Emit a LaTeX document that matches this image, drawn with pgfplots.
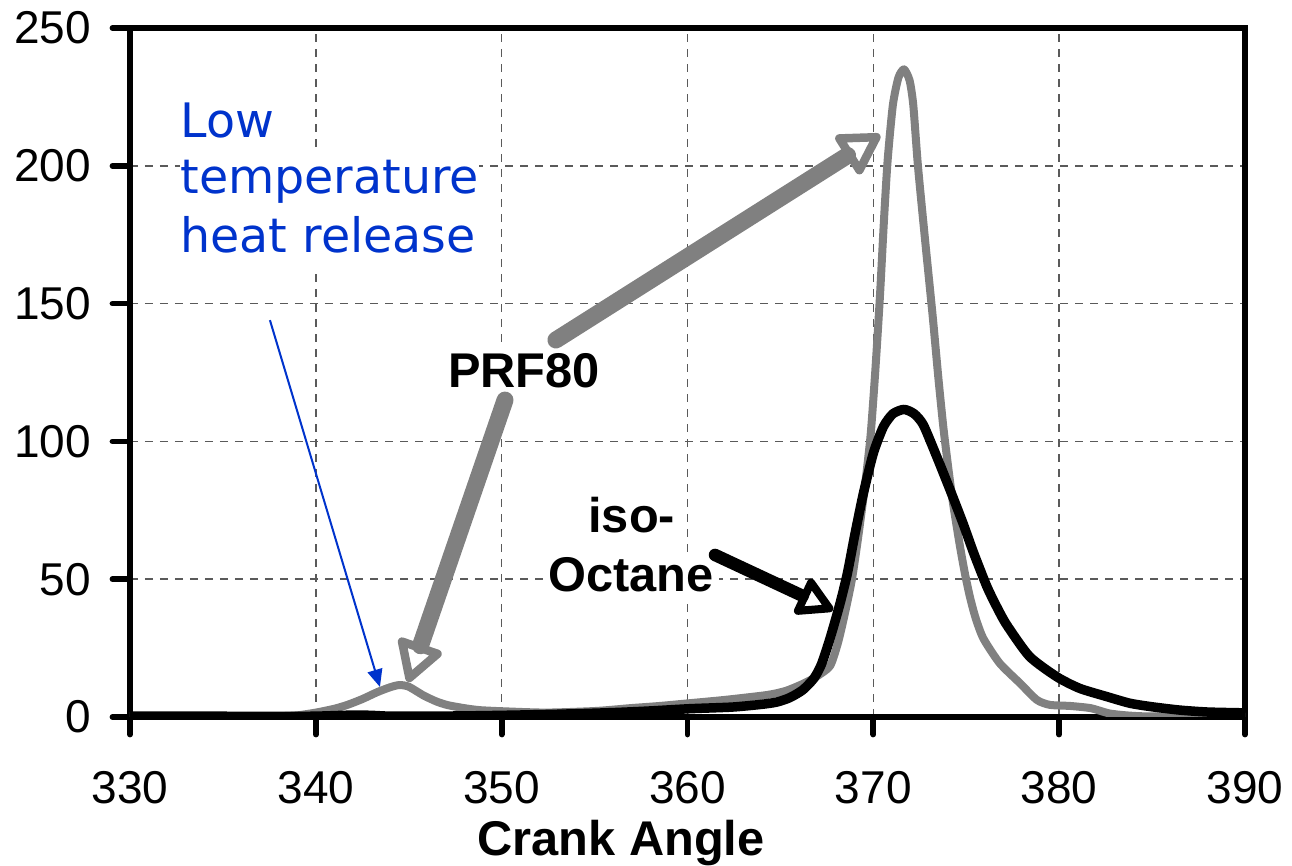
\documentclass[border=0pt]{standalone}
\usepackage{fontspec}
\setmainfont{Liberation Sans}
\newfontfamily\annfont{DejaVu Sans}
\usepackage{pgfplots}
\pgfplotsset{compat=1.18}
\usetikzlibrary{arrows.meta}
\definecolor{curvegray}{RGB}{128,128,128}
\definecolor{annblue}{RGB}{0,51,204}
\definecolor{gridc}{RGB}{90,90,90}

\begin{document}
\begin{tikzpicture}
\begin{axis}[
  name=ax,
  scale only axis, width=446pt, height=275.6pt,
  xmin=330, xmax=390, ymin=0, ymax=250,
  xtick={330,340,...,390}, ytick={0,50,...,250},
  xtick pos=bottom, ytick pos=left,
  tick align=outside, major tick length=7pt,
  every tick/.style={black, line width=2.3pt, line cap=round},
  axis line style={line width=2.3pt},
  grid=major,
  major grid style={dash pattern=on 3.2pt off 2.8pt, line width=0.6pt, gridc},
  /pgf/number format/assume math mode=true,
  tick label style={font=\fontsize{18.4}{22}\selectfont, inner sep=0pt},
  xticklabel style={anchor=base, yshift=-27.4pt},
  yticklabel style={anchor=east, xshift=-8.4pt},
  xlabel={Crank Angle},
  xlabel style={font=\bfseries\fontsize{19.5}{23}\selectfont, at={(axis description cs:0.4404,-0.2003)}, anchor=base, inner sep=0pt},
]
\addplot[curvegray, line width=3.2pt, line join=round, smooth, tension=0.4] coordinates {
(330,0.3)(333,0.3)(336,0.2)(338,0.3)(339,0.6)(340,1.6)(341,3)(341.7,4.4)(342.5,6.5)(343.3,9)(344,10.8)(344.5,11.6)(345,11)(345.8,7.8)(346.5,5.6)(347.1,4.3)(348,3.2)(348.8,2.5)(350,2.1)(352.4,1.6)(355.1,2.2)(356.9,3.2)(358.5,4)(360.1,5)(362,6.2)(364.3,8)(365.3,9.5)(366.2,12)(366.9,14.5)(367.67,18.5)(368.1,27)(368.45,37)(368.85,50)(369.2,66)(369.55,84)(369.85,102)(370.1,125)(370.35,152)(370.57,180)(370.77,202)(371.05,222)(371.35,232)(371.65,235)(371.95,231)(372.15,222)(372.4,200)(372.8,172)(373.2,145)(373.5,123)(373.77,105)(374.04,90)(374.3,77)(374.66,62)(374.93,52)(375.2,43.5)(375.5,36)(375.92,28.5)(376.8,19.5)(377.9,12.2)(378.8,6.2)(379.5,4.4)(380.6,4)(381.7,3.2)(382.7,1.3)(383.8,0.5)(385,0.2)(390,0.1)
};
\addplot[black, line width=3.8pt, line join=round, smooth, tension=0.4] coordinates {
(330,0.3)(334,0.3)(338,0.2)(340,0.3)(342,0.7)(343,0.6)(344,0.3)(346,0.3)(348,0.4)(350,0.6)(353,1)(356,1.6)(358,2.2)(360.1,3)(362.4,3.6)(364,4.6)(364.8,5.4)(365.5,7)(366.2,9.8)(366.8,14)(367.2,19)(367.67,28.5)(368.2,41)(368.6,52)(369.0,66)(369.46,81)(370.0,95.7)(370.54,105.3)(371.05,110)(371.65,111.6)(372.2,110)(372.69,106)(373.41,94.5)(374.13,82.4)(374.84,70)(375.4,59.5)(376.1,47.5)(376.6,40.5)(377.17,33.5)(378.4,22)(379.87,14.6)(381.1,10.4)(382.56,7.4)(383.8,5)(385,3.7)(386.5,2.5)(388,1.8)(390,1.5)
};
% annotations
\node[fill=white, inner sep=0pt, text height=16pt, text depth=7pt, anchor=base west, font=\annfont\fontsize{19}{23}\selectfont, text=annblue] at (axis cs:332.69,210.4) {Low};
\node[fill=white, inner sep=0pt, text height=16pt, text depth=7pt, anchor=base west, font=\annfont\fontsize{19}{23}\selectfont, text=annblue] at (axis cs:332.69,189.8) {temperature};
\node[fill=white, inner sep=0pt, text height=16pt, text depth=7pt, anchor=base west, font=\annfont\fontsize{19}{23}\selectfont, text=annblue] at (axis cs:332.69,168.7) {heat release};
\node[fill=white, inner sep=2pt, anchor=base, font=\bfseries\fontsize{19.5}{23}\selectfont] at (axis cs:351.2,119.4) {PRF80};
\node[fill=white, inner sep=2pt, anchor=base, font=\bfseries\fontsize{19.5}{23}\selectfont] at (axis cs:357.0,66.8) {iso-};
\node[fill=white, inner sep=2pt, anchor=base, font=\bfseries\fontsize{19.5}{23}\selectfont] at (axis cs:356.96,45.4) {Octane};
\draw[annblue, line width=0.8pt, -{Triangle[length=7pt,width=6pt]}] (axis cs:337.53,144.0) -- (axis cs:343.45,10.9);
\draw[curvegray, line width=6.8pt, line cap=round, -{Triangle[open,length=18pt,width=20pt,line width=3.4pt,round]}] (axis cs:352.92,136.8) -- (axis cs:370.36,211.2);
\draw[curvegray, line width=6.8pt, line cap=round, -{Triangle[open,length=18pt,width=20pt,line width=3.4pt,round]}] (axis cs:350.18,115.0) -- (axis cs:344.96,12.7);
\draw[black, line width=5pt, line cap=round, -{Triangle[open,length=16pt,width=17pt,line width=3.2pt,round]}] (axis cs:361.48,58.8) -- (axis cs:367.83,38.8);
\end{axis}
\path (ax.south west) ++(-52pt,-58.8pt) rectangle ([shift={(18.8pt,11.2pt)}]ax.north east);
\end{tikzpicture}
\end{document}
